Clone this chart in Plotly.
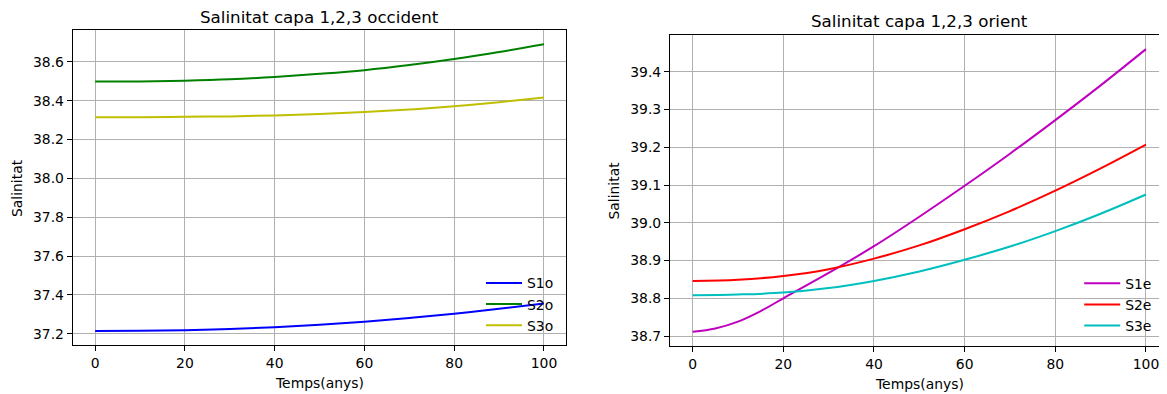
import plotly.graph_objects as go

# ---------------- data ----------------
years = [0, 10, 20, 30, 40, 50, 60, 70, 80, 90, 100]
years_s1e = [0, 5, 10, 15, 20, 30, 40, 50, 60, 70, 80, 90, 100]

S1o = [37.214, 37.215, 37.218, 37.224, 37.233, 37.246, 37.262, 37.281, 37.303, 37.328, 37.355]
S2o = [38.498, 38.499, 38.503, 38.510, 38.522, 38.538, 38.557, 38.583, 38.614, 38.650, 38.690]
S3o = [38.315, 38.315, 38.317, 38.319, 38.324, 38.331, 38.341, 38.354, 38.371, 38.392, 38.416]

S1e = [38.711, 38.720, 38.738, 38.766, 38.800, 38.867, 38.938, 39.016, 39.098, 39.183, 39.272, 39.364, 39.460]
S2e = [38.846, 38.849, 38.859, 38.877, 38.905, 38.940, 38.983, 39.031, 39.085, 39.144, 39.207]
S3e = [38.808, 38.810, 38.815, 38.827, 38.846, 38.871, 38.902, 38.937, 38.978, 39.024, 39.075]

x_ticks = [0, 20, 40, 60, 80, 100]
y_ticks_left = [37.2, 37.4, 37.6, 37.8, 38.0, 38.2, 38.4, 38.6]
y_ticks_right = [38.7, 38.8, 38.9, 39.0, 39.1, 39.2, 39.3, 39.4]

title_left = "Salinitat capa 1,2,3 occident"
title_right = "Salinitat capa 1,2,3 orient"
xlabel = "Temps(anys)"
ylabel = "Salinitat"

# ---------------- figure ----------------
# The page body has an 8px margin; the figure is sized so it fills the window.
OFF = 8
WIN_W, WIN_H = 1167, 394
W, H = WIN_W - OFF, WIN_H - OFF
FONT = "DejaVu Sans"
FS = 13.9


def fx(rx):
    """window pixel x -> paper fraction"""
    return (rx - OFF) / W


def fy(ry):
    """window pixel y (from top) -> paper fraction"""
    return 1 - (ry - OFF) / H


fig = go.Figure()

left_series = [("S1o", years, S1o, "#0000ff"), ("S2o", years, S2o, "#008000"),
               ("S3o", years, S3o, "#bfbf00")]
right_series = [("S1e", years_s1e, S1e, "#bf00bf"), ("S2e", years, S2e, "#ff0000"),
                ("S3e", years, S3e, "#00bfbf")]

for name, xs, vals, col in left_series:
    fig.add_trace(go.Scatter(x=xs, y=vals, name=name, mode="lines",
                             line=dict(color=col, width=2, shape="spline", smoothing=1.0),
                             xaxis="x", yaxis="y", legend="legend"))
for name, xs, vals, col in right_series:
    fig.add_trace(go.Scatter(x=xs, y=vals, name=name, mode="lines",
                             line=dict(color=col, width=2, shape="spline", smoothing=1.0),
                             xaxis="x2", yaxis="y2", legend="legend2"))


def pad_range(series_list):
    lo = min(min(s) for s in series_list)
    hi = max(max(s) for s in series_list)
    m = 0.05 * (hi - lo)
    return [lo - m, hi + m]


common_axis = dict(
    showgrid=True, gridcolor="#b0b0b0", gridwidth=1,
    showline=True, linecolor="black", linewidth=1,
    ticks="outside", ticklen=5, tickwidth=1, tickcolor="black",
    tickfont=dict(family=FONT, size=FS, color="black"),
    zeroline=False,
)

fig.update_layout(
    xaxis=dict(domain=[fx(72.7), fx(566.4)], range=[-5, 105], tickvals=x_ticks,
               mirror=True, anchor="y", **common_axis),
    yaxis=dict(domain=[fy(345.3), fy(30)], range=pad_range([S1o, S2o, S3o]),
               tickvals=y_ticks_left, tickformat=".1f", mirror=True, anchor="x", **common_axis),
    xaxis2=dict(domain=[fx(670), 1.0], range=[-5, -5 + (WIN_W - 670) / 4.533], tickvals=x_ticks,
                mirror=True, anchor="y2", **common_axis),
    yaxis2=dict(domain=[fy(346), fy(35)], range=pad_range([S1e, S2e, S3e]),
                tickvals=y_ticks_right, tickformat=".1f", mirror=False, anchor="x2", **common_axis),
)

legend_common = dict(
    bgcolor="rgba(0,0,0,0)", borderwidth=0,
    font=dict(family=FONT, size=FS, color="black"),
    xanchor="left", yanchor="top", tracegroupgap=0, itemwidth=36,
)
fig.update_layout(
    legend=dict(x=fx(481), y=fy(267.5), **legend_common),
    legend2=dict(x=fx(1079.2), y=fy(267.8), **legend_common),
)

annotations = [
    dict(text=title_left, x=fx(319.5), y=fy(17.5), xanchor="center", yanchor="middle",
         font=dict(family=FONT, size=16.7, color="black")),
    dict(text=title_right, x=fx(919.4), y=fy(20.7), xanchor="center", yanchor="middle",
         font=dict(family=FONT, size=16.7, color="black")),
    dict(text=xlabel, x=fx(319.5), y=fy(382.5), xanchor="center", yanchor="middle",
         font=dict(family=FONT, size=FS, color="black")),
    dict(text=xlabel, x=fx(919.4), y=fy(383.5), xanchor="center", yanchor="middle",
         font=dict(family=FONT, size=FS, color="black")),
    dict(text=ylabel, x=fx(16.3), y=fy(187.7), xanchor="center", yanchor="middle", textangle=-90,
         font=dict(family=FONT, size=FS, color="black")),
    dict(text=ylabel, x=fx(613), y=fy(190.5), xanchor="center", yanchor="middle", textangle=-90,
         font=dict(family=FONT, size=FS, color="black")),
]
for a in annotations:
    a.update(xref="paper", yref="paper", showarrow=False)

fig.update_layout(
    width=W, height=H, autosize=False,
    margin=dict(l=0, r=0, t=0, b=0, pad=0),
    paper_bgcolor="white", plot_bgcolor="white",
    annotations=annotations,
    showlegend=True,
)

fig.write_html("out.html")
